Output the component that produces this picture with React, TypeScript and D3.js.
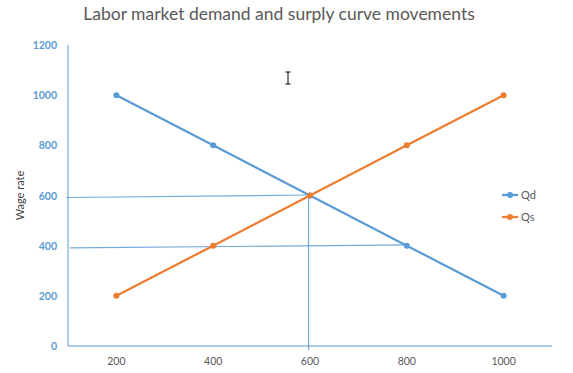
import React from "react";
import * as d3 from "d3";

const xValues = [200, 400, 600, 800, 1000];
const qd = [1000, 800, 600, 400, 200];
const qs = [200, 400, 600, 800, 1000];
const yTicks = [0, 200, 400, 600, 800, 1000, 1200];
const xTicks = [200, 400, 600, 800, 1000];
// hand-drawn guide lines (data units)
const guides: [number, number, number, number][] = [
  [96, 592, 600, 602],
  [104, 391, 800, 403],
  [597, 602, 597, -16],
];

const W = 573, H = 373;
const BLUE = "#5B9BD5", ORANGE = "#ED7D31";

export default function App() {
  const x = d3.scaleLinear().domain([100, 1100]).range([68, 552]);
  const y = d3.scaleLinear().domain([0, 1200]).range([346, 45]);
  const line = d3.line<[number, number]>().x(d => x(d[0])).y(d => y(d[1]));
  const series = [
    { name: "Qd", vals: qd, color: BLUE },
    { name: "Qs", vals: qs, color: ORANGE },
  ];
  const font = "Lato, 'Open Sans', sans-serif";
  return (
    <svg width={W} height={H} style={{ position: "absolute", left: 0, top: 0 }} fontFamily={font}>
      <rect width={W} height={H} fill="#fff" />
      <text x={279} y={20} textAnchor="middle" fontSize={17.5} fill="#595959">
        Labor market demand and surply curve movements
      </text>
      {/* axes */}
      <line x1={68} x2={68} y1={y(1200)} y2={y(0)} stroke={BLUE} strokeWidth={1} />
      <line x1={68} x2={552} y1={y(0)} y2={y(0)} stroke={BLUE} strokeWidth={1} />
      {yTicks.map(t => (
        <text key={t} x={57} y={y(t) + 4} textAnchor="end" fontSize={10.5} fontWeight="bold" fill={BLUE}>
          {t}
        </text>
      ))}
      {xTicks.map(t => (
        <text key={t} x={x(t)} y={365} textAnchor="middle" fontSize={10.5} fill="#595959">
          {t}
        </text>
      ))}
      <text transform={`translate(24,${y(600)}) rotate(-90)`} textAnchor="middle" fontSize={11} fill="#404040">
        Wage rate
      </text>
      {/* guides */}
      {guides.map((g, i) => (
        <line key={i} x1={x(g[0])} y1={y(g[1])} x2={x(g[2])} y2={y(g[3])} stroke={BLUE} strokeOpacity={0.85} strokeWidth={1.2} />
      ))}
      {series.map(s => {
        const pts = xValues.map((v, i) => [v, s.vals[i]] as [number, number]);
        return (
          <g key={s.name}>
            <path d={line(pts) || ""} fill="none" stroke={s.color} strokeWidth={2.25} />
            {pts.map((p, i) => (
              <circle key={i} cx={x(p[0])} cy={y(p[1])} r={3} fill={s.color} />
            ))}
          </g>
        );
      })}
      {/* legend */}
      {series.map((s, i) => (
        <g key={s.name} transform={`translate(502,${195 + i * 22})`}>
          <line x1={0} x2={16} y1={0} y2={0} stroke={s.color} strokeWidth={2.25} />
          <circle cx={8} cy={0} r={3} fill={s.color} />
          <text x={19} y={4} fontSize={11} fill="#595959">{s.name}</text>
        </g>
      ))}
      {/* text cursor artifact */}
      <path d="M285.5,72 h5 M288,72 v12 M285.5,84 h5" stroke="#000" strokeWidth={1} fill="none" />
    </svg>
  );
}
